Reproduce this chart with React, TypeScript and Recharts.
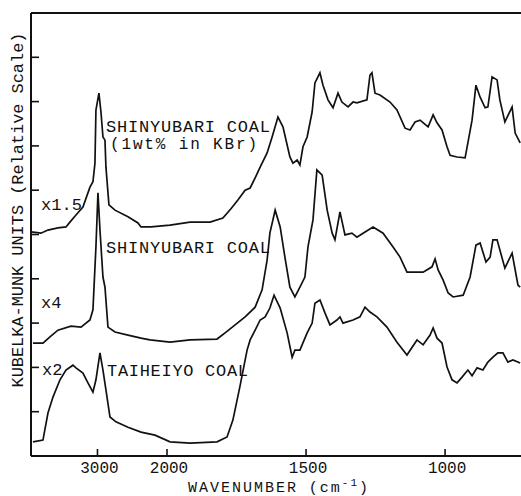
import { Line, LineChart, ReferenceLine, XAxis, YAxis } from "recharts";

// Spectra: wavenumber (cm-1) and Kubelka-Munk value (relative, offset per trace)
const kbrWavenumbers = [
  3955, 3813, 3712, 3569, 3453, 3396, 3309, 3209, 3108, 3065, 3036, 3022, 2979, 2950, 2921, 2892,
  2878, 2835, 2748, 2561, 2417, 2374, 2230, 1989, 1917, 1881, 1845, 1799, 1770, 1745, 1719, 1701,
  1683, 1665, 1640, 1622, 1601, 1583, 1558, 1547, 1532, 1522, 1511, 1496, 1478, 1468, 1450, 1439,
  1421, 1403, 1385, 1371, 1349, 1331, 1317, 1281, 1270, 1263, 1252, 1234, 1198, 1173, 1144, 1126,
  1108, 1090, 1061, 1043, 1029, 1011, 993, 982, 957, 928, 903, 889, 874, 856, 846, 831, 813, 803,
  785, 759, 748, 730,
];
const kbrValues = [
  5.06, 5.03, 5.1, 5.15, 5.17, 5.28, 5.44, 5.62, 6.07, 6.19, 6.61, 7.81, 8.19, 7.77, 7.2, 7.13,
  6.52, 5.67, 5.55, 5.4, 5.26, 5.17, 5.17, 5.21, 5.28, 5.28, 5.28, 5.37, 5.58, 5.78, 6.0, 6.05,
  6.28, 6.52, 6.84, 7.2, 7.65, 7.43, 6.75, 6.61, 6.68, 6.57, 6.98, 7.2, 7.77, 8.42, 8.65, 8.37,
  8.04, 7.86, 8.19, 7.99, 7.88, 7.99, 7.97, 8.04, 8.6, 8.65, 8.19, 8.15, 7.99, 7.81, 7.4, 7.36,
  7.54, 7.58, 7.43, 7.7, 7.52, 7.36, 6.98, 6.79, 6.75, 6.73, 7.58, 8.37, 8.1, 7.86, 7.88, 8.56,
  8.49, 8.04, 7.54, 7.88, 7.29, 7.07,
];

const shinyubariWavenumbers = [
  3928, 3784, 3683, 3569, 3381, 3237, 3108, 3065, 3022, 2993, 2964, 2921, 2892, 2849, 2748, 2561,
  2374, 2245, 1989, 1917, 1820, 1791, 1755, 1719, 1683, 1658, 1640, 1630, 1611, 1593, 1576, 1558,
  1540, 1522, 1504, 1493, 1475, 1461, 1442, 1424, 1406, 1396, 1378, 1360, 1335, 1317, 1295, 1259,
  1223, 1187, 1162, 1137, 1079, 1047, 1036, 1025, 1007, 989, 971, 935, 910, 889, 874, 853, 838,
  828, 813, 785, 759, 738, 730,
];
const shinyubariValues = [
  2.55, 2.55, 2.69, 2.84, 2.93, 2.91, 3.07, 3.3, 4.72, 5.94, 5.1, 4.04, 3.81, 2.91, 2.8, 2.73,
  2.66, 2.62, 2.57, 2.62, 2.64, 2.78, 2.96, 3.14, 3.36, 3.75, 4.42, 5.03, 5.55, 5.17, 4.49, 3.81,
  3.59, 3.81, 4.04, 4.72, 5.33, 6.46, 6.34, 5.55, 5.03, 4.88, 5.51, 4.99, 5.03, 4.94, 5.03, 5.17,
  5.03, 4.72, 4.49, 4.15, 4.15, 4.27, 4.45, 4.2, 3.97, 3.68, 3.59, 3.63, 4.04, 4.76, 4.81, 4.38,
  4.49, 4.88, 4.88, 4.24, 4.58, 3.86, 3.81,
];

const taiheiyoWavenumbers = [
  3928, 3784, 3712, 3640, 3539, 3453, 3353, 3309, 3209, 3137, 3065, 3022, 2964, 2921, 2878, 2820,
  2734, 2561, 2374, 2173, 1989, 1917, 1820, 1784, 1763, 1738, 1712, 1701, 1683, 1665, 1647, 1630,
  1615, 1593, 1568, 1550, 1540, 1522, 1496, 1478, 1468, 1450, 1432, 1414, 1389, 1378, 1367, 1331,
  1306, 1288, 1270, 1245, 1209, 1173, 1137, 1101, 1079, 1054, 1043, 1029, 1011, 993, 975, 957,
  939, 918, 903, 885, 864, 846, 828, 810, 792, 774, 756, 730,
];
const taiheiyoValues = [
  0.32, 0.36, 0.97, 1.33, 1.72, 1.94, 2.05, 1.99, 1.87, 1.65, 1.44, 1.72, 2.33, 1.94, 1.49, 0.88,
  0.77, 0.65, 0.54, 0.47, 0.32, 0.29, 0.32, 0.43, 0.81, 1.56, 2.39, 2.62, 2.84, 3.07, 3.14, 3.34,
  3.63, 3.34, 2.78, 2.23, 2.39, 2.39, 2.78, 3.0, 3.45, 3.52, 3.23, 2.96, 3.07, 3.14, 3.0, 3.07,
  3.14, 3.36, 3.25, 3.14, 2.91, 2.57, 2.28, 2.62, 2.51, 2.73, 2.89, 2.66, 2.55, 2.01, 1.72, 1.65,
  1.78, 1.94, 1.81, 1.99, 1.94, 2.12, 2.23, 2.33, 2.33, 2.12, 2.17, 2.1,
];

const xTickLabels = [3000, 2000, 1500, 1000];
const yTicks = [0, 1, 2, 3, 4, 5, 6, 7, 8, 9, 10];

// the wavenumber axis is compressed four times above 2000 cm-1
const toAxis = (w: number) => (w <= 2000 ? w : 2000 + (w - 2000) / 4);

const toSeries = (ws: number[], vs: number[]) =>
  ws.map((w, i) => ({ pos: toAxis(w), value: vs[i] }));

const kbrData = toSeries(kbrWavenumbers, kbrValues);
const shinyubariData = toSeries(shinyubariWavenumbers, shinyubariValues);
const taiheiyoData = toSeries(taiheiyoWavenumbers, taiheiyoValues);

const FONT = '"Liberation Mono", "Courier New", monospace';
const INK = "#111";

function XTick(props: any) {
  const { x, y, payload, index } = props;
  return (
    <g>
      <line x1={x} y1={y} x2={x} y2={y - 7} stroke={INK} strokeWidth={1.6} />
      <text x={x + 2} y={y + 17} textAnchor="middle" fontFamily={FONT} fontSize={16} fill={INK}>
        {xTickLabels[index] ?? payload.value}
      </text>
    </g>
  );
}

function YTick(props: any) {
  const { x, y } = props;
  return <line x1={x} y1={y} x2={x + 8} y2={y} stroke={INK} strokeWidth={1.6} />;
}

export default function App() {
  return (
    <div style={{ position: "absolute", left: 0, top: 0, width: 521, height: 496, background: "#fff" }}>
      <LineChart width={521} height={496} margin={{ top: 13, right: 0, bottom: 0, left: 0 }}>
        <XAxis
          type="number"
          dataKey="pos"
          domain={[727, 2489]}
          reversed
          allowDataOverflow
          ticks={xTickLabels.map(toAxis)}
          tick={<XTick />}
          tickSize={0}
          tickMargin={0}
          tickLine={false}
          height={40}
          axisLine={{ stroke: INK, strokeWidth: 2 }}
        />
        <YAxis
          type="number"
          domain={[0, 10]}
          ticks={yTicks}
          tick={<YTick />}
          tickSize={0}
          tickMargin={0}
          tickLine={false}
          width={31}
          axisLine={{ stroke: INK, strokeWidth: 2 }}
        />
        <ReferenceLine y={10} stroke={INK} strokeWidth={2} />
        <Line data={kbrData} dataKey="value" type="linear" dot={false} stroke={INK} strokeWidth={1.7} isAnimationActive={false} />
        <Line data={shinyubariData} dataKey="value" type="linear" dot={false} stroke={INK} strokeWidth={1.7} isAnimationActive={false} />
        <Line data={taiheiyoData} dataKey="value" type="linear" dot={false} stroke={INK} strokeWidth={1.7} isAnimationActive={false} />
      </LineChart>
      <svg
        width={521}
        height={496}
        style={{ position: "absolute", left: 0, top: 0, pointerEvents: "none" }}
        fontFamily={FONT}
        fill={INK}
      >
        <text x={106} y={132} fontSize={17} textLength={164} lengthAdjust="spacing">SHINYUBARI COAL</text>
        <text x={110} y={149} fontSize={16} textLength={147} lengthAdjust="spacing">(1wt% in KBr)</text>
        <text x={41} y={210} fontSize={17} textLength={41} lengthAdjust="spacing">x1.5</text>
        <text x={106} y={253} fontSize={17} textLength={164} lengthAdjust="spacing">SHINYUBARI COAL</text>
        <text x={41} y={308} fontSize={17}>x4</text>
        <text x={42} y={375} fontSize={17}>x2</text>
        <text x={107} y={376} fontSize={17} textLength={141} lengthAdjust="spacing">TAIHEIYO COAL</text>
        <text x={188} y={492} fontSize={15} textLength={180} lengthAdjust="spacing">
          WAVENUMBER (cm<tspan dy={-6} fontSize={11}>-1</tspan><tspan dy={6}>)</tspan>
        </text>
        <text
          x={23}
          y={210}
          fontSize={17}
          textAnchor="middle"
          textLength={355}
          lengthAdjust="spacing"
          transform="rotate(-90, 23, 210)"
        >
          KUBELKA-MUNK UNITS (Relative Scale)
        </text>
      </svg>
    </div>
  );
}
